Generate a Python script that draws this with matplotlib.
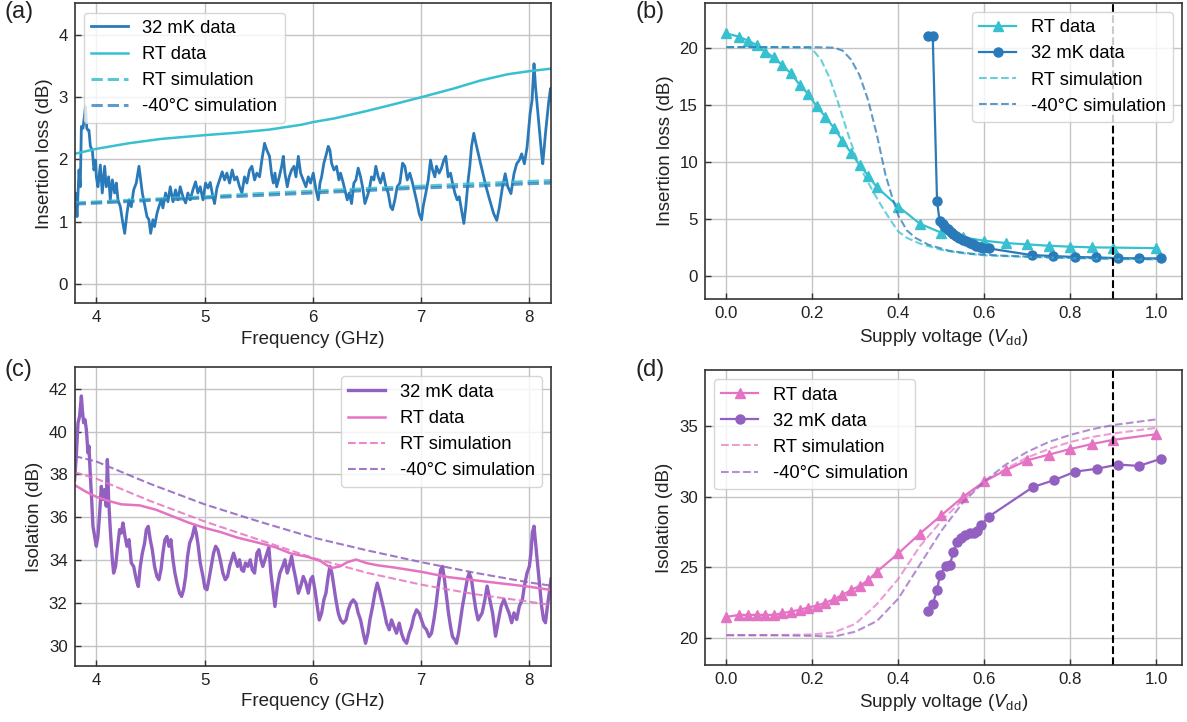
import numpy as np
import matplotlib.pyplot as plt

plt.rcParams['font.family'] = ['Liberation Sans', 'DejaVu Sans']
plt.rcParams['mathtext.fontset'] = 'custom'
plt.rcParams['mathtext.rm'] = 'Liberation Sans'
plt.rcParams['mathtext.it'] = 'Liberation Sans:italic'
plt.rc('font', size=13)
plt.rc('axes', labelsize=13.5, edgecolor='#333333', linewidth=1.2, labelcolor='#222222')
plt.rc('xtick', labelsize=12.2, direction='in', color='#333333', labelcolor='#222222')
plt.rc('ytick', labelsize=12.2, direction='in', color='#333333', labelcolor='#222222')
plt.rc('legend', fontsize=13.2)
plt.rc('grid', color='#c4c4c4', linewidth=1.0)

BLUE = '#2a7ab9'
CYAN = '#37c0cf'
PURPLE = '#9160c0'
PINK = '#e474c3'

# ---- (a) insertion loss vs frequency ----
f_32mk_a = [3.809, 3.822, 3.84, 3.852, 3.862, 3.877, 3.90, 3.912, 3.923, 3.932, 3.945, 3.963,
            3.978, 3.994, 4.0, 4.015, 4.037, 4.055, 4.077, 4.092, 4.114, 4.129, 4.148, 4.169,
            4.185, 4.20, 4.222, 4.24, 4.262, 4.283, 4.302, 4.323, 4.345, 4.369, 4.394, 4.406,
            4.425, 4.446, 4.468, 4.486, 4.502, 4.523, 4.538, 4.56, 4.578, 4.60, 4.615, 4.64,
            4.662, 4.683, 4.708, 4.732, 4.754, 4.775, 4.80, 4.825, 4.846, 4.868, 4.892, 4.917,
            4.938, 4.96, 4.985, 5.009, 5.031, 5.052, 5.077, 5.092, 5.114, 5.138, 5.163, 5.185,
            5.206, 5.231, 5.255, 5.277, 5.298, 5.323, 5.345, 5.369, 5.391, 5.415, 5.437, 5.462,
            5.483, 5.508, 5.529, 5.554, 5.575, 5.60, 5.62, 5.635, 5.65, 5.666, 5.69, 5.712,
            5.727, 5.742, 5.764, 5.782, 5.804, 5.826, 5.844, 5.866, 5.887, 5.912, 5.936, 5.958,
            5.979, 6.004, 6.029, 6.05, 6.066, 6.081, 6.102, 6.127, 6.142, 6.158, 6.173, 6.195,
            6.219, 6.241, 6.256, 6.281, 6.296, 6.318, 6.336, 6.358, 6.379, 6.398, 6.419, 6.441,
            6.459, 6.481, 6.502, 6.521, 6.542, 6.564, 6.582, 6.604, 6.625, 6.65, 6.675, 6.696,
            6.718, 6.736, 6.758, 6.779, 6.804, 6.829, 6.85, 6.872, 6.896, 6.921, 6.942, 6.964,
            6.982, 7.004, 7.019, 7.044, 7.066, 7.087, 7.106, 7.127, 7.142, 7.167, 7.188, 7.21,
            7.228, 7.25, 7.272, 7.29, 7.312, 7.333, 7.352, 7.373, 7.395, 7.413, 7.435, 7.45,
            7.466, 7.487, 7.506, 7.527, 7.542, 7.6, 7.635, 7.67, 7.699, 7.723, 7.752, 7.777,
            7.801, 7.83, 7.858, 7.883, 7.908, 7.929, 7.954, 7.979, 8.007, 8.025, 8.043, 8.057,
            8.071, 8.096, 8.113, 8.124, 8.149, 8.177, 8.195, 8.2]
il_32mk_a = [1.45, 1.08, 1.83, 1.56, 2.53, 2.50, 2.85, 2.50, 2.47, 2.47, 2.21, 2.15,
             1.83, 1.99, 1.72, 1.56, 1.91, 1.46, 1.89, 1.56, 1.72, 1.35, 1.67, 1.46,
             1.62, 1.35, 1.24, 1.03, 0.81, 1.13, 1.35, 1.24, 1.51, 1.62, 1.89, 1.72,
             1.46, 1.27, 1.08, 1.03, 0.81, 1.03, 0.92, 1.13, 1.24, 1.35, 1.22, 1.46,
             1.32, 1.56, 1.32, 1.51, 1.35, 1.56, 1.40, 1.30, 1.46, 1.35, 1.51, 1.64,
             1.46, 1.56, 1.35, 1.62, 1.54, 1.63, 1.40, 1.29, 1.54, 1.67, 1.80, 1.67,
             1.78, 1.62, 1.83, 1.67, 1.72, 1.56, 1.46, 1.72, 1.62, 1.83, 1.89, 1.67,
             1.78, 1.72, 1.99, 2.26, 2.15, 2.05, 1.75, 1.62, 1.78, 1.56, 1.72, 1.89,
             2.05, 1.78, 1.56, 1.72, 1.83, 1.89, 1.72, 2.05, 1.78, 1.67, 1.56, 1.72,
             1.62, 1.78, 1.51, 1.35, 1.62, 1.72, 1.94, 2.10, 2.21, 2.15, 1.94, 1.83,
             1.89, 1.67, 1.78, 1.62, 1.51, 1.35, 1.46, 1.29, 1.62, 1.67, 1.86, 1.72,
             1.56, 1.29, 1.40, 1.51, 1.72, 1.67, 1.89, 1.72, 1.62, 1.78, 1.56, 1.46,
             1.24, 1.19, 1.35, 1.56, 1.62, 1.94, 1.89, 1.67, 1.78, 1.62, 1.46, 1.29,
             1.13, 1.03, 1.24, 1.46, 1.67, 1.99, 1.83, 1.72, 1.89, 1.78, 1.86, 1.99,
             2.05, 1.72, 1.78, 1.62, 1.46, 1.35, 1.40, 1.19, 0.97, 1.24, 1.67, 1.89,
             2.21, 2.42, 2.26, 2.10, 1.99, 1.56, 1.34, 1.13, 1.02, 1.23, 1.56, 1.77,
             1.56, 1.45, 1.77, 1.93, 1.99, 2.09, 1.93, 2.20, 2.74, 2.95, 3.54, 3.17,
             2.90, 2.42, 2.09, 1.93, 2.42, 2.90, 3.14, 2.95]

f_rt_a = [3.8, 4.0, 4.3, 4.6, 5.0, 5.3, 5.6, 5.9, 6.0, 6.2, 6.5, 6.8, 7.0, 7.3, 7.55, 7.8, 8.0, 8.2]
il_rt_a = [2.09, 2.17, 2.26, 2.33, 2.39, 2.43, 2.48, 2.56, 2.60, 2.66, 2.78, 2.91, 3.0, 3.14,
           3.27, 3.37, 3.42, 3.46]

f_sim_a = [3.8, 4.5, 5.0, 5.5, 6.0, 6.5, 7.0, 7.5, 8.0, 8.2]
il_rtsim_a = [1.30, 1.36, 1.40, 1.45, 1.49, 1.53, 1.57, 1.61, 1.645, 1.66]
il_m40sim_a = [1.28, 1.34, 1.38, 1.42, 1.46, 1.50, 1.54, 1.57, 1.61, 1.62]

# ---- (b) insertion loss vs supply voltage ----
v_rt_b = [0.0, 0.03, 0.05, 0.07, 0.09, 0.11, 0.13, 0.15, 0.17, 0.19, 0.21, 0.23, 0.25, 0.27,
          0.29, 0.31, 0.33, 0.35, 0.40, 0.45, 0.50, 0.55, 0.60, 0.65, 0.70, 0.75, 0.80, 0.85,
          0.90, 1.00]
il_rt_b = [21.3, 21.0, 20.66, 20.3, 19.7, 19.2, 18.5, 17.8, 16.8, 16.0, 14.9, 14.0, 13.0, 11.9,
           10.8, 9.75, 8.8, 7.8, 6.1, 4.6, 3.8, 3.4, 3.1, 2.9, 2.78, 2.66, 2.58, 2.52, 2.5, 2.45]

v_32mk_b = [0.47, 0.48, 0.49, 0.496, 0.503, 0.509, 0.515, 0.522, 0.528, 0.535, 0.542, 0.55,
            0.558, 0.566, 0.573, 0.581, 0.589, 0.597, 0.61, 0.71, 0.76, 0.81, 0.86, 0.91,
            0.96, 1.01]
il_32mk_b = [21.1, 21.1, 6.6, 4.8, 4.55, 4.3, 4.1, 3.9, 3.7, 3.5, 3.37, 3.2, 3.1, 2.93, 2.78,
             2.66, 2.58, 2.5, 2.43, 1.84, 1.76, 1.67, 1.64, 1.57, 1.55, 1.55]

v_rtsim_b = [0.0, 0.1, 0.19, 0.2, 0.22, 0.24, 0.26, 0.28, 0.30, 0.32, 0.34, 0.36, 0.38, 0.40,
             0.42, 0.45, 0.5, 0.55, 0.6, 0.7, 0.8, 0.9, 1.0]
il_rtsim_b = [20.1, 20.1, 20.05, 19.9, 19.0, 17.4, 15.2, 12.8, 10.6, 8.9, 7.5, 6.2, 5.0, 3.9,
              3.35, 2.85, 2.3, 2.0, 1.82, 1.68, 1.58, 1.5, 1.45]
v_m40sim_b = [0.0, 0.1, 0.2, 0.25, 0.27, 0.29, 0.31, 0.33, 0.35, 0.37, 0.385, 0.40, 0.42,
              0.44, 0.47, 0.52, 0.58, 0.65, 0.75, 0.85, 1.0]
il_m40sim_b = [20.1, 20.1, 20.1, 20.05, 19.8, 19.0, 17.6, 15.4, 12.4, 8.9, 7.0, 5.3, 4.0,
               3.35, 2.75, 2.2, 1.92, 1.78, 1.65, 1.57, 1.5]

# ---- (c) isolation vs frequency ----
f_32mk_c = [3.80, 3.815, 3.831, 3.846, 3.862, 3.871, 3.883, 3.895, 3.908, 3.923, 3.932, 3.945,
            3.957, 3.969, 3.985, 4.0, 4.015, 4.031, 4.046, 4.062, 4.077, 4.092, 4.102, 4.114,
            4.129, 4.148, 4.16, 4.178, 4.197, 4.215, 4.231, 4.246, 4.265, 4.283, 4.302, 4.323,
            4.345, 4.369, 4.388, 4.406, 4.425, 4.446, 4.462, 4.48, 4.498, 4.517, 4.538, 4.56,
            4.578, 4.597, 4.615, 4.634, 4.652, 4.671, 4.689, 4.708, 4.726, 4.745, 4.769, 4.788,
            4.806, 4.825, 4.843, 4.862, 4.886, 4.908, 4.923, 4.938, 4.96, 4.985, 5.003, 5.022,
            5.04, 5.062, 5.083, 5.102, 5.123, 5.145, 5.169, 5.191, 5.212, 5.231, 5.249, 5.268,
            5.286, 5.305, 5.323, 5.342, 5.36, 5.378, 5.40, 5.422, 5.44, 5.462, 5.483, 5.502,
            5.52, 5.538, 5.557, 5.575, 5.594, 5.612, 5.635, 5.65, 5.672, 5.696, 5.721, 5.742,
            5.764, 5.782, 5.804, 5.819, 5.844, 5.866, 5.887, 5.912, 5.936, 5.958, 5.979, 5.998,
            6.019, 6.041, 6.059, 6.081, 6.102, 6.121, 6.142, 6.158, 6.176, 6.195, 6.213, 6.235,
            6.256, 6.281, 6.306, 6.327, 6.349, 6.373, 6.398, 6.419, 6.441, 6.466, 6.487, 6.509,
            6.527, 6.552, 6.573, 6.595, 6.613, 6.635, 6.656, 6.681, 6.706, 6.727, 6.749, 6.773,
            6.798, 6.819, 6.841, 6.866, 6.89, 6.912, 6.933, 6.958, 6.982, 7.004, 7.025, 7.05,
            7.075, 7.096, 7.118, 7.136, 7.158, 7.18, 7.198, 7.216, 7.235, 7.253, 7.272, 7.29,
            7.312, 7.327, 7.346, 7.364, 7.382, 7.404, 7.426, 7.444, 7.466, 7.487, 7.506, 7.527,
            7.564, 7.589, 7.61, 7.635, 7.66, 7.688, 7.716, 7.74, 7.766, 7.787, 7.812, 7.837,
            7.858, 7.883, 7.908, 7.936, 7.954, 7.979, 8.0, 8.014, 8.028, 8.043, 8.06, 8.078,
            8.096, 8.113, 8.131, 8.149, 8.167, 8.184, 8.2]
iso_32mk_c = [37.76, 38.85, 40.41, 40.72, 41.66, 41.0, 40.41, 40.56, 40.10, 39.0, 39.32, 37.91,
              36.82, 35.57, 35.10, 34.64, 35.10, 36.20, 37.44, 36.82, 37.29, 36.51, 38.69, 36.82,
              35.42, 34.01, 33.39, 33.70, 34.64, 35.42, 35.26, 35.73, 35.10, 34.64, 34.95, 33.86,
              33.70, 33.08, 32.76, 33.70, 34.32, 34.79, 35.42, 35.57, 34.95, 34.48, 33.70, 33.23,
              33.08, 33.54, 34.32, 34.95, 35.10, 34.64, 34.95, 34.01, 33.39, 32.92, 32.45, 32.30,
              32.61, 33.23, 34.17, 34.79, 35.10, 35.57, 35.26, 34.79, 33.86, 33.23, 32.69, 32.61,
              33.08, 33.70, 34.32, 34.64, 34.48, 34.01, 33.39, 33.08, 33.23, 33.70, 34.01, 34.32,
              34.01, 33.70, 34.01, 33.54, 33.47, 33.86, 33.70, 34.01, 33.54, 33.39, 34.32, 34.48,
              34.01, 33.70, 34.01, 34.32, 34.6, 33.4, 32.45, 31.83, 32.76, 33.39, 33.70, 34.01,
              33.39, 33.70, 34.17, 33.70, 33.08, 32.45, 32.76, 33.23, 32.92, 32.45, 33.08, 33.23,
              32.61, 31.83, 31.20, 31.52, 32.14, 32.45, 33.23, 33.70, 33.39, 32.76, 32.14, 31.52,
              31.20, 31.05, 31.20, 31.67, 31.98, 32.14, 31.98, 31.52, 31.20, 30.58, 30.11, 30.58,
              31.20, 31.83, 32.45, 32.92, 32.61, 32.14, 31.67, 31.05, 30.74, 31.20, 30.89, 30.58,
              31.05, 30.58, 30.27, 30.11, 30.58, 30.89, 31.36, 31.67, 31.52, 31.20, 30.89, 30.74,
              30.42, 30.58, 31.20, 31.83, 32.76, 33.54, 33.70, 33.08, 32.30, 31.52, 30.89, 30.42,
              30.27, 30.11, 30.58, 31.20, 31.83, 32.45, 33.08, 33.39, 33.08, 32.30, 31.67, 31.20,
              31.53, 32.14, 32.78, 32.14, 31.53, 30.44, 31.22, 31.85, 32.16, 31.85, 31.53, 31.07,
              31.53, 31.22, 31.85, 32.16, 32.78, 33.4, 33.7, 34.3, 35.27, 35.58, 34.65, 33.7,
              32.78, 31.85, 31.22, 31.07, 31.85, 32.47, 33.1]

f_rt_c = [3.8, 3.9, 4.0, 4.12, 4.23, 4.4, 4.55, 4.7, 4.85, 5.0, 5.15, 5.3, 5.5, 5.65, 5.8, 5.95,
          6.07, 6.17, 6.25, 6.32, 6.4, 6.5, 6.6, 6.75, 7.0, 7.25, 7.5, 7.75, 8.0, 8.2]
iso_rt_c = [37.5, 37.2, 36.95, 36.75, 36.6, 36.55, 36.35, 36.05, 35.75, 35.5, 35.3, 35.05, 34.8,
            34.6, 34.3, 34.15, 33.95, 33.62, 33.7, 33.9, 34.02, 33.85, 33.75, 33.65, 33.45, 33.2,
            33.05, 32.9, 32.75, 32.6]

f_sim_c = [3.8, 4.0, 4.5, 5.0, 5.5, 6.0, 6.5, 7.0, 7.5, 8.0, 8.2]
iso_rtsim_c = [38.1, 37.8, 36.75, 35.8, 34.95, 34.1, 33.4, 32.85, 32.4, 32.05, 31.9]
iso_m40sim_c = [38.85, 38.6, 37.55, 36.6, 35.8, 35.05, 34.45, 33.9, 33.4, 32.95, 32.8]

# ---- (d) isolation vs supply voltage ----
v_rt_d = [0.0, 0.03, 0.05, 0.07, 0.09, 0.11, 0.13, 0.15, 0.17, 0.19, 0.21, 0.23, 0.25, 0.27,
          0.29, 0.31, 0.33, 0.35, 0.40, 0.45, 0.50, 0.55, 0.60, 0.65, 0.70, 0.75, 0.80, 0.85,
          0.90, 1.00]
iso_rt_d = [21.5, 21.64, 21.64, 21.64, 21.64, 21.64, 21.76, 21.88, 22.0, 22.16, 22.3, 22.5,
            22.75, 23.06, 23.4, 23.7, 24.1, 24.7, 26.0, 27.4, 28.7, 30.0, 31.1, 31.9, 32.6,
            33.0, 33.4, 33.75, 34.05, 34.45]

v_32mk_d = [0.468, 0.48, 0.49, 0.497, 0.51, 0.52, 0.528, 0.536, 0.545, 0.556, 0.567, 0.577,
            0.584, 0.592, 0.61, 0.713, 0.763, 0.812, 0.862, 0.911, 0.96, 1.01]
iso_32mk_d = [21.95, 22.4, 23.4, 24.5, 25.1, 25.2, 26.1, 26.8, 27.1, 27.3, 27.45, 27.45,
              27.6, 28.0, 28.6, 30.7, 31.2, 31.8, 32.0, 32.3, 32.2, 32.7]

v_sim_d = [0.0, 0.1, 0.2, 0.25, 0.3, 0.35, 0.4, 0.45, 0.5, 0.55, 0.6, 0.65, 0.7, 0.75, 0.8,
           0.85, 0.9, 0.95, 1.0]
iso_rtsim_d = [20.2, 20.2, 20.25, 20.4, 21.0, 22.4, 24.2, 26.5, 28.3, 29.8, 31.1, 32.0, 32.8,
               33.4, 33.9, 34.25, 34.5, 34.7, 34.9]
iso_m40sim_d = [20.2, 20.2, 20.15, 20.1, 20.45, 21.2, 22.8, 25.2, 27.6, 29.6, 31.1, 32.3, 33.2,
                33.9, 34.4, 34.8, 35.1, 35.3, 35.5]

v_nominal = 0.9

fig = plt.figure(figsize=(11.87, 7.22), dpi=100)
ax_a = fig.add_axes([0.0629, 0.5803, 0.4013, 0.4150])
ax_b = fig.add_axes([0.5939, 0.5853, 0.4019, 0.4110])
ax_c = fig.add_axes([0.0629, 0.0776, 0.4013, 0.4137])
ax_d = fig.add_axes([0.5939, 0.0792, 0.4019, 0.4083])

for ax in (ax_a, ax_b, ax_c, ax_d):
    ax.grid(True)
    ax.set_axisbelow(True)
    ax.tick_params(length=4, width=1, pad=5)

# (a)
ax_a.plot(f_32mk_a, il_32mk_a, color=BLUE, lw=2, label='32 mK data')
ax_a.plot(f_rt_a, il_rt_a, color=CYAN, lw=1.8, label='RT data')
ax_a.plot(f_sim_a, il_rtsim_a, color=CYAN, lw=2.2, ls='--', alpha=0.85, label='RT simulation')
ax_a.plot(f_sim_a, il_m40sim_a, color=BLUE, lw=2.2, ls='--', alpha=0.75, label='-40°C simulation')
ax_a.set_xlim(3.8, 8.2)
ax_a.set_ylim(-0.31, 4.51)
ax_a.set_xticks([4, 5, 6, 7, 8])
ax_a.set_yticks([0, 1, 2, 3, 4])
ax_a.set_xlabel('Frequency (GHz)')
ax_a.set_ylabel('Insertion loss (dB)')
ax_a.legend(loc='upper left')

# (b)
ax_b.plot(v_rt_b, il_rt_b, color=CYAN, lw=1.6, marker='^', ms=6.5, label='RT data')
ax_b.plot(v_32mk_b, il_32mk_b, color=BLUE, lw=1.6, marker='o', ms=6.5, label='32 mK data')
ax_b.plot(v_rtsim_b, il_rtsim_b, color=CYAN, lw=1.5, ls='--', alpha=0.75, label='RT simulation')
ax_b.plot(v_m40sim_b, il_m40sim_b, color=BLUE, lw=1.5, ls='--', alpha=0.75, label='-40°C simulation')
ax_b.axvline(v_nominal, color='black', ls='--', lw=1.5)
ax_b.set_xlim(-0.05, 1.06)
ax_b.set_ylim(-2.05, 24.0)
ax_b.set_xticks([0.0, 0.2, 0.4, 0.6, 0.8, 1.0])
ax_b.set_yticks([0, 5, 10, 15, 20])
ax_b.set_xlabel(r'Supply voltage ($V_{\mathrm{dd}}$)')
ax_b.set_ylabel('Insertion loss (dB)')
ax_b.legend(loc='upper right')

# (c)
ax_c.plot(f_32mk_c, iso_32mk_c, color=PURPLE, lw=2.4, label='32 mK data')
ax_c.plot(f_rt_c, iso_rt_c, color=PINK, lw=1.8, label='RT data')
ax_c.plot(f_sim_c, iso_rtsim_c, color=PINK, lw=1.5, ls='--', alpha=0.85, label='RT simulation')
ax_c.plot(f_sim_c, iso_m40sim_c, color=PURPLE, lw=1.5, ls='--', alpha=0.85, label='-40°C simulation')
ax_c.set_xlim(3.8, 8.2)
ax_c.set_ylim(29.05, 43.0)
ax_c.set_xticks([4, 5, 6, 7, 8])
ax_c.set_yticks([30, 32, 34, 36, 38, 40, 42])
ax_c.set_xlabel('Frequency (GHz)')
ax_c.set_ylabel('Isolation (dB)')
ax_c.legend(loc='upper right')

# (d)
ax_d.plot(v_rt_d, iso_rt_d, color=PINK, lw=1.6, marker='^', ms=6.5, label='RT data')
ax_d.plot(v_32mk_d, iso_32mk_d, color=PURPLE, lw=1.6, marker='o', ms=6.5, label='32 mK data')
ax_d.plot(v_sim_d, iso_rtsim_d, color=PINK, lw=1.5, ls='--', alpha=0.7, label='RT simulation')
ax_d.plot(v_sim_d, iso_m40sim_d, color=PURPLE, lw=1.5, ls='--', alpha=0.7, label='-40°C simulation')
ax_d.axvline(v_nominal, color='black', ls='--', lw=1.5)
ax_d.set_xlim(-0.05, 1.06)
ax_d.set_ylim(18.1, 39.0)
ax_d.set_xticks([0.0, 0.2, 0.4, 0.6, 0.8, 1.0])
ax_d.set_yticks([20, 25, 30, 35])
ax_d.set_xlabel(r'Supply voltage ($V_{\mathrm{dd}}$)')
ax_d.set_ylabel('Isolation (dB)')
ax_d.legend(loc='upper left')

for txt, x, y in [('(a)', 0.004, 0.998), ('(b)', 0.535, 0.998),
                  ('(c)', 0.004, 0.503), ('(d)', 0.535, 0.503)]:
    fig.text(x, y, txt, fontsize=17, va='top', ha='left', color='#222222')

fig.savefig('out.png', dpi=100)
